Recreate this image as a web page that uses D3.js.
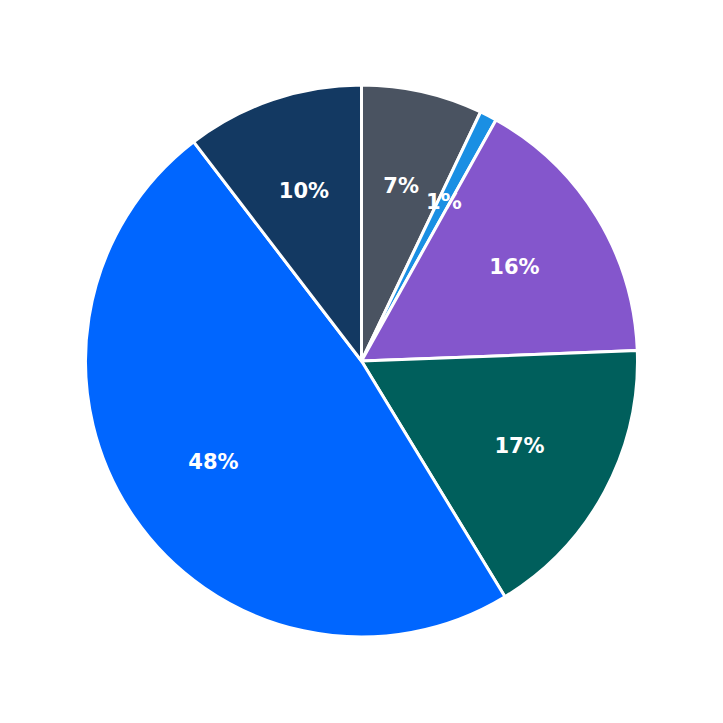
<!DOCTYPE html>
<html><head><meta charset="utf-8">
<script src="https://cdn.jsdelivr.net/npm/d3@7/dist/d3.min.js"></script>
<style>body{margin:0;background:#fff}</style></head>
<body><svg width="723" height="723"></svg>
<script>
const categories = ["A","B","C","D","E","F"];
const values = [7.1, 1.0, 16.3, 16.9, 48.3, 10.4];
const labels = ["7%","1%","16%","17%","48%","10%"];
const colors = ["#4a5361","#1a8fe3","#8456cc","#005f5c","#0066ff","#133962"];
const svg = d3.select("svg");
const g = svg.append("g").attr("transform","translate(361.5,361)");
const r = 276;
const pie = d3.pie().sort(null).value(d=>d)(values);
const arc = d3.arc().innerRadius(0).outerRadius(r);
const labelArc = d3.arc().innerRadius(r*0.65).outerRadius(r*0.65);
g.selectAll("path").data(pie).join("path").attr("d",arc)
 .attr("fill",(d,i)=>colors[i]).attr("stroke","#fff").attr("stroke-width",3).attr("stroke-linejoin","round");
g.selectAll("text").data(pie).join("text")
 .attr("transform",d=>`translate(${labelArc.centroid(d)})`)
 .attr("text-anchor","middle").attr("dominant-baseline","central")
 .attr("fill","#fff").attr("font-family","DejaVu Sans").attr("font-weight","bold").attr("font-size",21)
 .text((d,i)=>labels[i]);
</script></body></html>
